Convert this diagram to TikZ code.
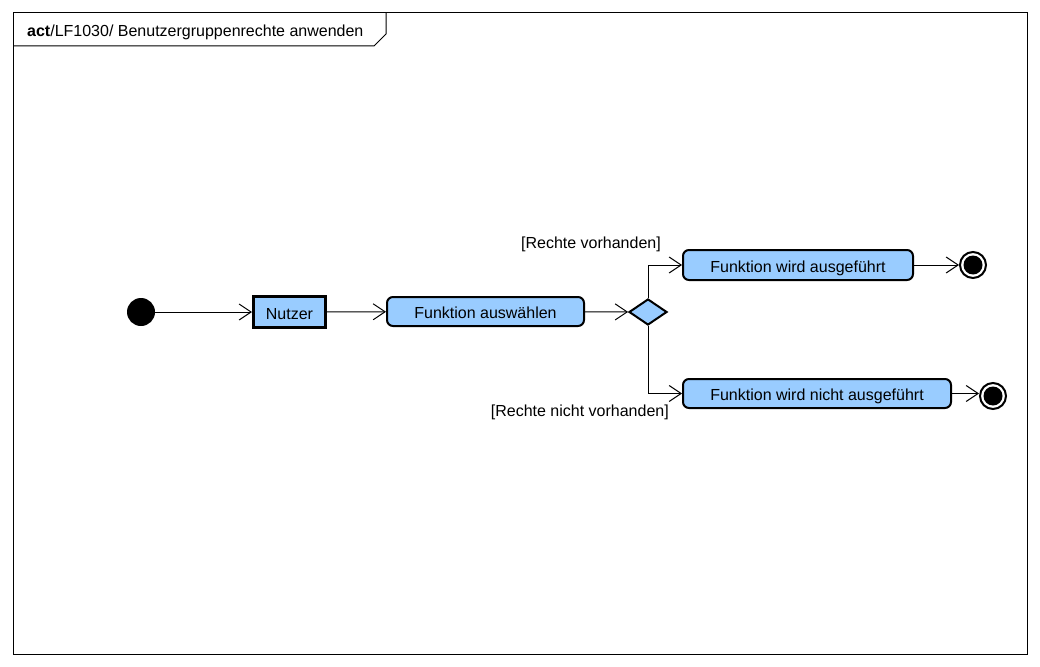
\documentclass[tikz,border=0pt]{standalone}
\usepackage{fontspec}
\setmainfont{Liberation Sans}
\usetikzlibrary{positioning,shapes.geometric,arrows.meta}
\definecolor{actblue}{HTML}{99CCFF}

\begin{document}
\begin{tikzpicture}[
        % define styles
        x=1pt, y=-1pt,
        every node/.style={font=\fontsize{16}{19}\selectfont},
        action/.style={
            draw,
            line width=2pt,
            rounded corners=6pt,
            fill=actblue,
            inner sep=0pt,
            text height=15pt,
            text depth=1pt,
            minimum height=29pt
        },
        objnode/.style={
            draw,
            line width=3pt,
            fill=actblue,
            inner sep=0pt,
            text height=15pt,
            text depth=1pt,
            minimum width=72pt,
            minimum height=31pt
        },
        decision/.style={
            diamond,
            draw,
            line width=2pt,
            fill=actblue,
            inner sep=0pt,
            minimum width=38pt,
            minimum height=26pt
        },
        startnode/.style={
            circle,
            fill=black,
            inner sep=0pt,
            minimum size=28pt
        },
        endnode/.style={
            circle,
            draw,
            line width=2pt,
            fill=white,
            inner sep=0pt,
            minimum size=26pt
        },
        guard/.style={inner sep=0pt},
        flow/.style={
            line width=1pt,
            -{Straight Barb[length=12pt,width=16pt,line width=1pt]}
        }
    ]
    \useasboundingbox (0,0) rectangle (1040,666);

    % frame and title tab
    \draw[line width=1pt] (13,13) rectangle (1027,654);
    \draw[line width=1pt] (13,46) -- (374,46) -- (386,34) -- (386,13);
    \node[anchor=base west, inner sep=0pt] (title) at (27,37)
        {\textbf{act}/LF1030/ Benutzergruppenrechte anwenden};

    % nodes
    \node[startnode] (init) at (141,312) {};
    \node[objnode] (nutzer) at (289.5,312) {Nutzer};
    \node[action, minimum width=197pt] (auswahl) at (485.5,311.5) {Funktion auswählen};
    \node[decision] (dec) at (648,312) {};
    \node[action, minimum width=230pt, minimum height=30pt] (exec) at (798,265) {Funktion wird ausgeführt};
    \node[action, minimum width=268pt] (noexec) at (817,393.5) {Funktion wird nicht ausgeführt};
    \node[endnode] (end1) at (973,265) {};
    \fill (end1) circle (9.5pt);
    \node[endnode] (end2) at (993,396) {};
    \fill (end2) circle (9.5pt);

    % guards
    \node[guard, anchor=east] (gyes) at (661,244) {[Rechte vorhanden]};
    \node[guard, anchor=east] (gno) at (669,412) {[Rechte nicht vorhanden]};

    % control flows
    \draw[flow] (init) -- (nutzer);
    \draw[flow] (nutzer) -- (auswahl);
    \draw[flow] (auswahl) -- (dec);
    \draw[flow] (dec.north) |- (exec.west);
    \draw[flow] (dec.south) |- (noexec.west);
    \draw[flow] (exec) -- (end1);
    \draw[flow] (noexec.east) -- (noexec.east -| end2.west);

\end{tikzpicture}
\end{document}
